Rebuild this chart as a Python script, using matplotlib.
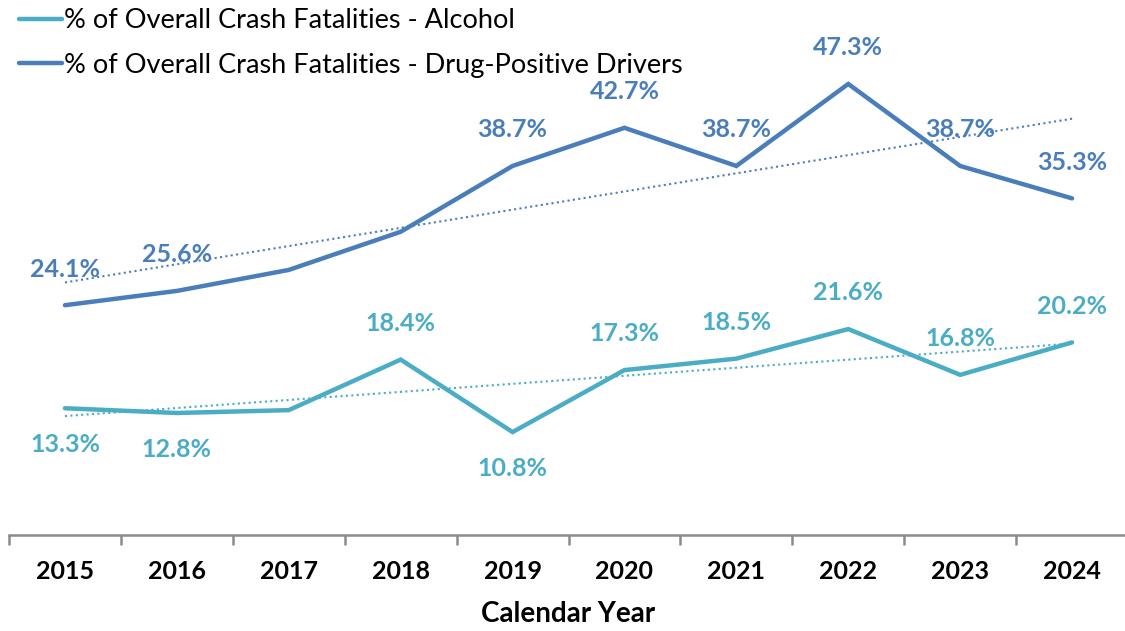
import numpy as np
import matplotlib
matplotlib.use("Agg")
import matplotlib.pyplot as plt
from matplotlib.lines import Line2D

# === Datos ===
years = ["2015", "2016", "2017", "2018", "2019", "2020", "2021", "2022", "2023", "2024"]
alcohol = [13.3, 12.8, 13.1, 18.4, 10.8, 17.3, 18.5, 21.6, 16.8, 20.2]
drugs = [24.1, 25.6, 27.8, 31.8, 38.7, 42.7, 38.7, 47.3, 38.7, 35.3]

# etiquetas visibles (None = sin etiqueta), y posicion (+1 arriba, -1 abajo)
alcohol_labels = ["13.3%", "12.8%", None, "18.4%", "10.8%", "17.3%", "18.5%", "21.6%", "16.8%", "20.2%"]
alcohol_pos = [-1, -1, 0, 1, -1, 1, 1, 1, 1, 1]
drug_labels = ["24.1%", "25.6%", None, None, "38.7%", "42.7%", "38.7%", "47.3%", "38.7%", "35.3%"]

legend_names = ["% of Overall Crash Fatalities - Alcohol",
                "% of Overall Crash Fatalities - Drug-Positive Drivers"]

c_alc = "#4BACC6"
c_drug = "#4A7EBB"

plt.rcParams['font.family'] = ['Lato', 'DejaVu Sans']

fig = plt.figure(figsize=(11.25, 6.31), dpi=100)
ax = fig.add_axes([0.008, 0.152, 0.9947, 0.848])

x = np.arange(len(years))

ax.plot(x, alcohol, color=c_alc, lw=3.2, solid_capstyle='round', solid_joinstyle='miter', zorder=3)
ax.plot(x, drugs, color=c_drug, lw=3.2, solid_capstyle='round', solid_joinstyle='miter', zorder=3)

# lineas de tendencia (ajuste lineal)
for serie, col in [(alcohol, c_alc), (drugs, c_drug)]:
    m, b = np.polyfit(x, serie, 1)
    ax.plot(x, m * x + b, color=col, lw=1.5, ls=(0, (1, 1.6)), zorder=2)

# etiquetas de datos
for i in range(len(years)):
    if alcohol_labels[i]:
        ax.annotate(alcohol_labels[i], (x[i], alcohol[i]), xytext=(0, 26 * alcohol_pos[i]),
                    textcoords='offset points', ha='center', va='center',
                    fontsize=18, fontweight='bold', color=c_alc, zorder=4)
    if drug_labels[i]:
        ax.annotate(drug_labels[i], (x[i], drugs[i]), xytext=(0, 26),
                    textcoords='offset points', ha='center', va='center',
                    fontsize=18, fontweight='bold', color=c_drug, zorder=4)

ax.set_xlim(-0.5, 9.5)
ax.set_ylim(0, 56.1)
for s in ['top', 'right', 'left']:
    ax.spines[s].set_visible(False)
ax.spines['bottom'].set_color('#8c8c8c')
ax.spines['bottom'].set_linewidth(1.8)
ax.set_yticks([])

ax.set_xticks(np.arange(-0.5, 10, 1))
ax.set_xticklabels([])
ax.tick_params(axis='x', which='major', length=7, width=1.8, color='#8c8c8c')
ax.set_xticks(x, minor=True)
ax.set_xticklabels(years, minor=True)
ax.tick_params(axis='x', which='minor', length=0, pad=18, labelsize=18)
for t in ax.get_xticklabels(minor=True):
    t.set_fontweight('bold')

ax.set_xlabel("Calendar Year", fontsize=20, fontweight='bold', labelpad=13)

handles = [Line2D([0], [0], color=c_alc, lw=3.2, solid_capstyle='round'),
           Line2D([0], [0], color=c_drug, lw=3.2, solid_capstyle='round')]
fig.legend(handles, legend_names, loc='upper left', bbox_to_anchor=(0.0, 1.017),
           frameon=False, fontsize=19.5, handlelength=1.6, handletextpad=0.08,
           labelspacing=0.72, borderaxespad=0.3)

fig.savefig("out.png", dpi=100)
